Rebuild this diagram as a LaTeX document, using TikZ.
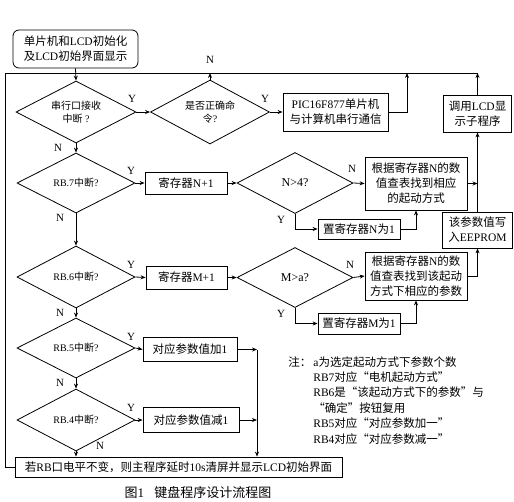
\documentclass[tikz,border=0pt]{standalone}
\usepackage{fontspec}
\setmainfont{Liberation Serif}
\newfontfamily\latinfont{Liberation Serif}
\newfontfamily\cjkfont{Noto Sans CJK SC}
\XeTeXinterchartokenstate=1
\newXeTeXintercharclass\cjkcls
\newcount\cjkcc
\cjkcc="3000
\loop\XeTeXcharclass\cjkcc=\cjkcls\ifnum\cjkcc<"9FFF\advance\cjkcc by 1\repeat
\cjkcc="FF00
\loop\XeTeXcharclass\cjkcc=\cjkcls\ifnum\cjkcc<"FFEF\advance\cjkcc by 1\repeat
\XeTeXcharclass"201C=\cjkcls
\XeTeXcharclass"201D=\cjkcls
\XeTeXinterchartoks 0 \cjkcls={\cjkfont}
\XeTeXinterchartoks 4095 \cjkcls={\cjkfont}
\XeTeXinterchartoks \cjkcls 0={\latinfont}
\XeTeXinterchartoks \cjkcls 4095={\latinfont}
\usetikzlibrary{shapes.geometric,arrows.meta}
\begin{document}
\begin{tikzpicture}[x=1pt,y=-1pt,
  line width=0.8pt,
  >={Stealth[length=5pt,width=4pt]},
  box/.style={draw,rectangle,inner sep=0pt,align=center,font=\fontsize{11.5}{15}\selectfont},
  dia/.style={draw,diamond,aspect=2,inner sep=0pt,align=center,minimum width=118pt,minimum height=62pt,font=\fontsize{10}{13.5}\selectfont},
  lab/.style={font=\fontsize{11}{13}\selectfont,inner sep=0pt},
  note/.style={font=\fontsize{11.5}{15.4}\selectfont,inner sep=0pt,align=left}
]
\useasboundingbox (0,0) rectangle (514,501);
% nodes
\node[box,rounded corners=6pt,minimum width=125pt,minimum height=38pt] (init) at (75.5,49) {单片机和LCD初始化\\及LCD初始界面显示};
\node[dia,minimum width=120pt] (d1) at (76,112) {串行口接收\\中断 ?};
\node[dia,minimum width=119pt,minimum height=64pt] (d2) at (210,112) {是否正确命\\令?};
\node[box,minimum width=105pt,minimum height=38pt] (pic) at (335.5,112) {PIC16F877单片机\\与计算机串行通信};
\node[box,minimum width=68pt,minimum height=37pt] (lcd) at (477.5,113.5) {调用LCD显\\示子程序};
\node[dia,minimum height=60pt] (d3) at (76,183) {RB.7中断?};
\node[box,minimum width=82pt,minimum height=22pt] (regN) at (186,183) {寄存器N+1};
\node[dia,minimum width=116pt,minimum height=61pt,font=\fontsize{12}{14}\selectfont] (d4) at (295,183) {N>4?};
\node[box,minimum width=102pt,minimum height=53pt] (tabN) at (416,183.5) {根据寄存器N的数\\值查表找到相应\\的起动方式};
\node[box,minimum width=82pt,minimum height=20pt] (setN) at (359,229) {置寄存器N为1};
\node[box,minimum width=70pt,minimum height=36pt] (eep) at (477.5,230) {该参数值写\\入EEPROM};
\node[dia] (d5) at (76,277) {RB.6中断?};
\node[box,minimum width=81pt,minimum height=23pt] (regM) at (186.5,277.5) {寄存器M+1};
\node[dia,minimum width=116pt,minimum height=60pt,font=\fontsize{12}{14}\selectfont] (d6) at (295,277.5) {M>a?};
\node[box,minimum width=102pt,minimum height=48pt] (tabM) at (416,276) {根据寄存器N的数\\值查表找到该起动\\方式下相应的参数};
\node[box,minimum width=82pt,minimum height=21pt] (setM) at (359,323.5) {置寄存器M为1};
\node[dia,minimum height=60pt] (d7) at (76,348) {RB.5中断?};
\node[box,minimum width=94pt,minimum height=24pt] (add) at (190,349.5) {对应参数值加1};
\node[dia] (d8) at (76,420) {RB.4中断?};
\node[box,minimum width=96pt,minimum height=25pt] (sub) at (191,420) {对应参数值减1};
\node[box,minimum width=327pt,minimum height=20pt] (bot) at (178.5,467) {若RB口电平不变，则主程序延时10s清屏并显示LCD初始界面};
% notes and caption
\node[note,anchor=north west] (n0) at (288,356) {注：};
\node[note,anchor=north west] (n1) at (313,356) {a为选定起动方式下参数个数\\RB7对应“电机起动方式”\\RB6是“该起动方式下的参数”与\\“确定”按钮复用\\RB5对应“对应参数加一”\\RB4对应“对应参数减一”};
\node[font=\fontsize{13}{15}\selectfont,inner sep=0pt] (cap) at (198,493) {图1\hspace{0.8em}键盘程序设计流程图};
% coordinates
\coordinate (tl) at (5,73);
\coordinate (tr) at (478,73);
\coordinate (bl) at (5,467);
\coordinate (picup) at (407,73);
\coordinate (vtop) at (257,349.5);
% connectors
\draw (bot.west) -- (bl) -- (tl) -- (tr);
\draw[->] (init.south) -- (d1.north);
\draw[->] (d1.east) -- (d2.west);
\draw[->] (d2.east) -- (pic.west);
\draw[->] (d2.north) -- (d2.north |- tl);
\draw[->] (pic.east) -| (picup);
\draw[->] (lcd.north) -- (lcd.north |- tl);
\draw[->] (eep.north) -- (lcd.south);
\draw[->] (tabN.east) -- (tabN.east -| eep.north);
\draw[->] (tabM.east) -| (eep.south);
\draw[->] (d1.south) -- (d3.north);
\draw[->] (d3.east) -- (regN.west);
\draw[->] (regN.east) -- (d4.west);
\draw[->] (d4.east) -- (tabN.west);
\draw[->] (d4.south) |- (setN.west);
\draw[->] (setN.east) -| (tabN.south);
\draw[->] (d3.south) -- (d5.north);
\draw[->] (d5.east) -- (regM.west);
\draw[->] (regM.east) -- (d6.west);
\draw[->] (d6.east) -- (tabM.west);
\draw[->] (d6.south) |- (setM.west);
\draw[->] (setM.east) -| (tabM.south);
\draw[->] (d5.south) -- (d7.north);
\draw[->] (d7.east) -- (add.west);
\draw[->] (d7.south) -- (d8.north);
\draw[->] (d8.east) -- (sub.west);
\draw[->] (add.east) -- (vtop);
\draw[->] (sub.east) -- (sub.east -| vtop);
\draw[->] (vtop) -- (vtop |- bot.north);
\draw[->] (d8.south) -- (d8.south |- bot.north);
% labels
\node[lab] (lN1) at (210,60) {N};
\node[lab] (lY1) at (132,99) {Y};
\node[lab] (lY2) at (265,99) {Y};
\node[lab] (lN2) at (58,148) {N};
\node[lab] (lY3) at (131,171) {Y};
\node[lab] (lN3) at (352,169) {N};
\node[lab] (lY4) at (281,220) {Y};
\node[lab] (lN4) at (60,218) {N};
\node[lab] (lY5) at (131,265) {Y};
\node[lab] (lN5) at (350,265) {N};
\node[lab] (lY6) at (281,314) {Y};
\node[lab] (lN6) at (60,313) {N};
\node[lab] (lY7) at (131,337) {Y};
\node[lab] (lN7) at (60,383) {N};
\node[lab] (lY8) at (131,408) {Y};
\node[lab] (lN8) at (100,446) {N};
\end{tikzpicture}
\end{document}
